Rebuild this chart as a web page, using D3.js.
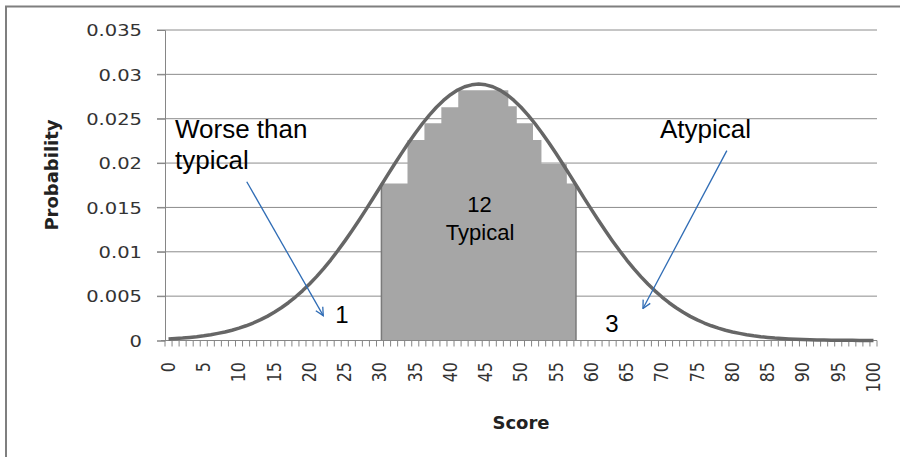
<!DOCTYPE html>
<html lang="en">
<head>
<meta charset="UTF-8">
<title>Score probability</title>
<style>
  body { margin: 0; background: #fff; }
  svg { display: block; font-family: "DejaVu Sans", sans-serif; }
  .note { font-family: "Liberation Sans", Arial, sans-serif; fill: #000; }
</style>
</head>
<body>
<div id="chart"></div>
<script src="https://d3js.org/d3.v7.min.js"></script>
<script>
// Score categories on the x axis (0..100) and the ones that get a label
const scores = d3.range(0, 101);
const xTickLabels = [0, 5, 10, 15, 20, 25, 30, 35, 40, 45, 50, 55, 60, 65, 70, 75, 80, 85, 90, 95, 100];
const yTickValues = [0, 0.005, 0.01, 0.015, 0.02, 0.025, 0.03, 0.035];

// Probability line, one value per score
const probability = [
  0.00018, 0.00023, 0.00028, 0.00035, 0.00043, 0.00053, 0.00065, 0.00080, 0.00096, 0.00116,
  0.00139, 0.00166, 0.00197, 0.00232, 0.00272, 0.00318, 0.00369, 0.00426, 0.00490, 0.00560,
  0.00637, 0.00720, 0.00811, 0.00907, 0.01011, 0.01120, 0.01234, 0.01352, 0.01475, 0.01600,
  0.01727, 0.01855, 0.01981, 0.02104, 0.02223, 0.02336, 0.02443, 0.02541, 0.02629, 0.02706,
  0.02771, 0.02823, 0.02860, 0.02882, 0.02890, 0.02882, 0.02860, 0.02823, 0.02771, 0.02706,
  0.02629, 0.02541, 0.02443, 0.02336, 0.02223, 0.02104, 0.01981, 0.01855, 0.01727, 0.01600,
  0.01475, 0.01352, 0.01234, 0.01120, 0.01011, 0.00907, 0.00811, 0.00720, 0.00637, 0.00560,
  0.00490, 0.00426, 0.00369, 0.00318, 0.00272, 0.00232, 0.00197, 0.00166, 0.00139, 0.00116,
  0.00096, 0.00080, 0.00065, 0.00053, 0.00043, 0.00035, 0.00028, 0.00023, 0.00018, 0.00014,
  0.00011, 0.00009, 0.00007, 0.00005, 0.00004, 0.00003, 0.00002, 0.00002, 0.00001, 0.00001,
  0.00001
];

// The grey "typical" block: step edges (score) and the height of each step
const typicalEdges = [30.2, 33.9, 36.3, 38.7, 41.1, 48.2, 49.4, 51.7, 52.9, 56.5, 57.8];
const typicalHeights = [0.0177, 0.0226, 0.0245, 0.0263, 0.0282, 0.0264, 0.0245, 0.0226, 0.0199, 0.0177];

const W = 900, H = 457;
const plot = { left: 165, right: 877, top: 30, bottom: 340.5 };

const svg = d3.select("#chart").append("svg")
  .attr("width", W)
  .attr("height", H);

// chart area border (only top and left are inside the picture)
svg.append("rect")
  .attr("x", 6).attr("y", 6.5)
  .attr("width", 1000).attr("height", 1000)
  .attr("fill", "#fff")
  .attr("stroke", "#7f7f7f")
  .attr("stroke-width", 2);

const x = d3.scaleBand()
  .domain(scores)
  .range([plot.left, plot.right]);

// continuous version of the same axis, score -> centre of its category
const xc = d3.scaleLinear()
  .domain([-0.5, 100.5])
  .range([plot.left, plot.right]);

const y = d3.scaleLinear()
  .domain([0, 0.035])
  .range([plot.bottom, plot.top]);

// gridlines
svg.append("g")
  .selectAll("line")
  .data(yTickValues.filter(v => v > 0))
  .join("line")
  .attr("x1", plot.left - 8).attr("x2", plot.right)
  .attr("y1", d => y(d)).attr("y2", d => y(d))
  .attr("stroke", "#8c8c8c")
  .attr("stroke-width", 1);

// y axis
const yAxis = svg.append("g")
  .attr("transform", `translate(${plot.left},0)`)
  .call(d3.axisLeft(y).tickValues(yTickValues).tickSize(8).tickFormat(d => d === 0 ? "0" : d3.format("")(+d.toFixed(3))));
yAxis.select(".domain").attr("stroke", "#868686");
yAxis.selectAll(".tick line").attr("stroke", "#868686");
yAxis.selectAll(".tick text")
  .attr("x", null).attr("dy", null)
  .attr("text-anchor", "end")
  .attr("dominant-baseline", "central")
  .attr("transform", "translate(-23,0) scale(1.22,1)")
  .style("font-size", "16px")
  .style("font-family", "'DejaVu Sans', sans-serif")
  .attr("fill", "#333");

// typical block
const stepPoints = typicalEdges.map((s, i) => ({ s, v: typicalHeights[Math.min(i, typicalHeights.length - 1)] }));
svg.append("path")
  .datum(stepPoints)
  .attr("fill", "#a6a6a6")
  .attr("d", d3.area()
    .x(d => xc(d.s))
    .y0(y(0))
    .y1(d => y(d.v))
    .curve(d3.curveStepAfter));

// darker edges of the block
svg.append("g")
  .selectAll("line")
  .data([stepPoints[0], stepPoints[stepPoints.length - 1]])
  .join("line")
  .attr("x1", d => xc(d.s)).attr("x2", d => xc(d.s))
  .attr("y1", y(0)).attr("y2", d => y(d.v))
  .attr("stroke", "#7a7a7a")
  .attr("stroke-width", 1.5);

// x axis line and ticks between categories
svg.append("line")
  .attr("x1", plot.left - 4).attr("x2", plot.right)
  .attr("y1", y(0)).attr("y2", y(0))
  .attr("stroke", "#868686");
svg.append("g")
  .selectAll("line")
  .data(scores.concat([null]))
  .join("line")
  .attr("x1", d => d === null ? plot.right : x(d))
  .attr("x2", d => d === null ? plot.right : x(d))
  .attr("y1", y(0)).attr("y2", y(0) + 6)
  .attr("stroke", "#868686");

svg.append("g")
  .selectAll("text")
  .data(xTickLabels)
  .join("text")
  .attr("transform", d => `translate(${x(d) + x.bandwidth() / 2},362) scale(1.18,1) rotate(-90)`)
  .attr("text-anchor", "end")
  .attr("dominant-baseline", "central")
  .style("font-size", "16px")
  .attr("fill", "#333")
  .text(d => d);

// probability curve
svg.append("path")
  .datum(probability)
  .attr("fill", "none")
  .attr("stroke", "#666")
  .attr("stroke-width", 3.5)
  .attr("stroke-linejoin", "round")
  .attr("d", d3.line()
    .x((d, i) => x(scores[i]) + x.bandwidth() / 2)
    .y(d => y(d)));

// axis titles
svg.append("text")
  .attr("transform", "translate(58,175) rotate(-90)")
  .attr("text-anchor", "middle")
  .style("font-size", "18px")
  .style("font-weight", "bold")
  .attr("fill", "#222")
  .text("Probability");

svg.append("text")
  .attr("x", (plot.left + plot.right) / 2)
  .attr("y", 429)
  .attr("text-anchor", "middle")
  .style("font-size", "18px")
  .style("font-weight", "bold")
  .attr("fill", "#222")
  .text("Score");

// annotations
const defs = svg.append("defs");
defs.append("marker")
  .attr("id", "vhead")
  .attr("viewBox", "0 0 10 10")
  .attr("refX", 9).attr("refY", 5)
  .attr("markerWidth", 10).attr("markerHeight", 10)
  .attr("markerUnits", "userSpaceOnUse")
  .attr("orient", "auto")
  .append("path")
  .attr("d", "M1,1 L9,5 L1,9")
  .attr("fill", "none")
  .attr("stroke", "#2f6cb5")
  .attr("stroke-width", 1.3);

const arrows = [
  { from: [11.1, 0.0179], to: [21.95, 0.0028] },
  { from: [79.2, 0.0214], to: [67.3, 0.0036] }
];
svg.append("g")
  .selectAll("line")
  .data(arrows)
  .join("line")
  .attr("x1", d => xc(d.from[0])).attr("y1", d => y(d.from[1]))
  .attr("x2", d => xc(d.to[0])).attr("y2", d => y(d.to[1]))
  .attr("stroke", "#2f6cb5")
  .attr("stroke-width", 1.3)
  .attr("marker-end", "url(#vhead)");

function note(txt, s, v, size, anchor) {
  svg.append("text")
    .attr("class", "note")
    .attr("x", xc(s))
    .attr("y", y(v))
    .attr("text-anchor", anchor || "start")
    .style("font-size", size + "px")
    .text(txt);
}
note("Worse than", 0.92, 0.0228, 26);
note("typical", 0.92, 0.0193, 26);
note("Atypical", 69.7, 0.0228, 26);
note("12", 44.1, 0.0145, 22, "middle");
note("Typical", 44.2, 0.0113, 22, "middle");
note("1", 24.6, 0.0020, 24, "middle");
note("3", 62.9, 0.0010, 24, "middle");
</script>
</body>
</html>
